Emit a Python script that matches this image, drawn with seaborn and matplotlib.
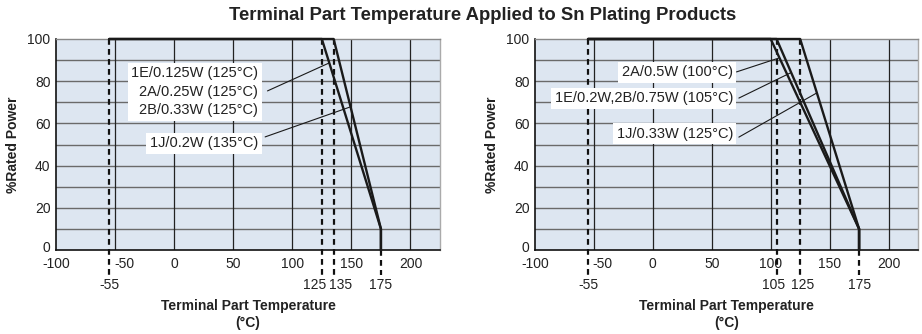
import matplotlib
matplotlib.use("Agg")
import matplotlib.pyplot as plt
import matplotlib.transforms as mtransforms
import seaborn as sns
import pandas as pd

sns.set_theme(style="white")
plt.rcParams['font.family'] = ['Liberation Sans', 'DejaVu Sans']
plt.rcParams['axes.unicode_minus'] = False

# ---- data ----
title = "Terminal Part Temperature Applied to Sn Plating Products"
xlabel_lines = ["Terminal Part Temperature", "(°C)"]
ylabel = "%Rated Power"
xticks = [-100, -50, 0, 50, 100, 150, 200]
yticks = [0, 20, 40, 60, 80, 100]
min_temp = -55
max_temp = 175
end_power = 10

left_knees = [125, 135]
left_marks = [-55, 125, 135]       # dashed guides inside the plot
left_extra_ticks = [-55, 125, 135, 175]
left_labels = ["1E/0.125W (125°C)\n2A/0.25W (125°C)\n2B/0.33W (125°C)", "1J/0.2W (135°C)"]
left_label_pos = [(71, 75.0), (71, 50.7)]     # text anchor (right edge, centre)
left_leader_start = [(79, 75.4), (77, 53.6)]
left_leader_end = [(131, 88.6), (149, 67.8)]

right_knees = [100, 105, 125]
right_marks = [-55, 105, 125]
right_extra_ticks = [-55, 105, 125, 175]
right_labels = ["2A/0.5W (100°C)", "1E/0.2W,2B/0.75W (105°C)", "1J/0.33W (125°C)"]
right_label_pos = [(68, 84.3), (68, 72.0), (68, 55.0)]
right_leader_start = [(71, 84.4), (73, 72.0), (73, 53.5)]
right_leader_end = [(107, 91.0), (117, 84.0), (139, 74.4)]

W, H = 922, 334
fig = plt.figure(figsize=(W / 100, H / 100), dpi=100)
fig.patch.set_facecolor("white")

bg = "#dde6f1"
txt = "#222222"


def curve(knee):
    return pd.DataFrame({"T": [min_temp, knee, max_temp, max_temp],
                         "P": [100, 100, end_power, 0]})


def shift(lbl, dx_px, dy_px):
    lbl.set_transform(lbl.get_transform() +
                      mtransforms.ScaledTranslation(dx_px / 100, dy_px / 100,
                                                    fig.dpi_scale_trans))


def draw(ax, knees, marks, extra, labels, lpos, lstart, lend, offsets):
    ax.set_facecolor(bg)
    ax.set_xlim(-100, 225)
    ax.set_ylim(0, 100)
    # grid
    for yv in range(10, 100, 10):
        ax.axhline(yv, color="#6a6a6a", lw=1.0, zorder=1)
    for xv in xticks[1:]:
        ax.axvline(xv, color="#222222", lw=0.9, zorder=1)
    # dashed guides
    for m in marks:
        ax.plot([m, m], [100, -12], color="#111111", lw=1.6, ls=(0, (2.6, 1.9)),
                clip_on=False, zorder=3)
    ax.plot([max_temp, max_temp], [0, -12], color="#111111", lw=1.6,
            ls=(0, (2.6, 1.9)), clip_on=False, zorder=3)
    # curves
    for k in knees:
        sns.lineplot(data=curve(k), x="T", y="P", sort=False, estimator=None,
                     ax=ax, color="#1a1a1a", lw=1.7, zorder=5, clip_on=False)
    # labels
    for lab, (x, y) in zip(labels, lpos):
        ax.text(x, y, lab, ha="right", va="center", fontsize=10.5, color=txt,
                linespacing=1.42, zorder=6,
                bbox=dict(facecolor="white", edgecolor="none", pad=2.5))
    for (x0, y0), (x1, y1) in zip(lstart, lend):
        ax.plot([x0, x1], [y0, y1], color="#1a1a1a", lw=0.8, zorder=6)
    # extra tick labels
    for e in extra:
        dx = offsets.get(e, 0)
        ax.annotate(str(e), xy=(e, 0), xycoords="data",
                    xytext=(dx, -25.5), textcoords="offset points",
                    ha="center", va="center", fontsize=10, color=txt,
                    annotation_clip=False)
    ax.set_xticks(xticks)
    ax.set_yticks(yticks)
    ax.tick_params(axis="both", length=0, labelsize=10, colors=txt)
    ax.tick_params(axis="x", pad=5)
    ax.tick_params(axis="y", pad=4)
    for lbl in ax.get_xticklabels():
        if lbl.get_text() in ("-50", "−50"):
            shift(lbl, 9, 0)
    for lbl in ax.get_yticklabels():
        if lbl.get_text() == "0":
            shift(lbl, 0, 3)
    ax.set_xlabel("")
    ax.set_ylabel(ylabel, fontsize=10, fontweight="bold", color=txt, labelpad=5)
    ax.text(0.5, -0.265, xlabel_lines[0], transform=ax.transAxes,
            ha="center", va="center", fontsize=10, fontweight="bold", color=txt)
    ax.text(0.5, -0.345, xlabel_lines[1], transform=ax.transAxes,
            ha="center", va="center", fontsize=10, fontweight="bold", color=txt)
    ax.spines["left"].set_color("#111111")
    ax.spines["bottom"].set_color("#111111")
    ax.spines["top"].set_color("#888888")
    ax.spines["right"].set_color("#aaaaaa")
    for s in ax.spines.values():
        s.set_linewidth(1.0)
        s.set_visible(True)
    ax.spines["left"].set_linewidth(1.2)
    ax.spines["bottom"].set_linewidth(1.2)


bottom = 1 - 250 / H
height = (250 - 39) / H
ax1 = fig.add_axes([56 / W, bottom, (440 - 56) / W, height])
ax2 = fig.add_axes([535 / W, bottom, (918 - 535) / W, height])

draw(ax1, left_knees, left_marks, left_extra_ticks, left_labels,
     left_label_pos, left_leader_start, left_leader_end, {125: -5, 135: 5})
draw(ax2, right_knees, right_marks, right_extra_ticks, right_labels,
     right_label_pos, right_leader_start, right_leader_end, {105: -2, 125: 2})

fig.text(483 / W, 1 - 16 / H, title, ha="center", va="center",
         fontsize=13.3, fontweight="bold", color=txt)

fig.savefig("out.png", dpi=100, facecolor="white")
